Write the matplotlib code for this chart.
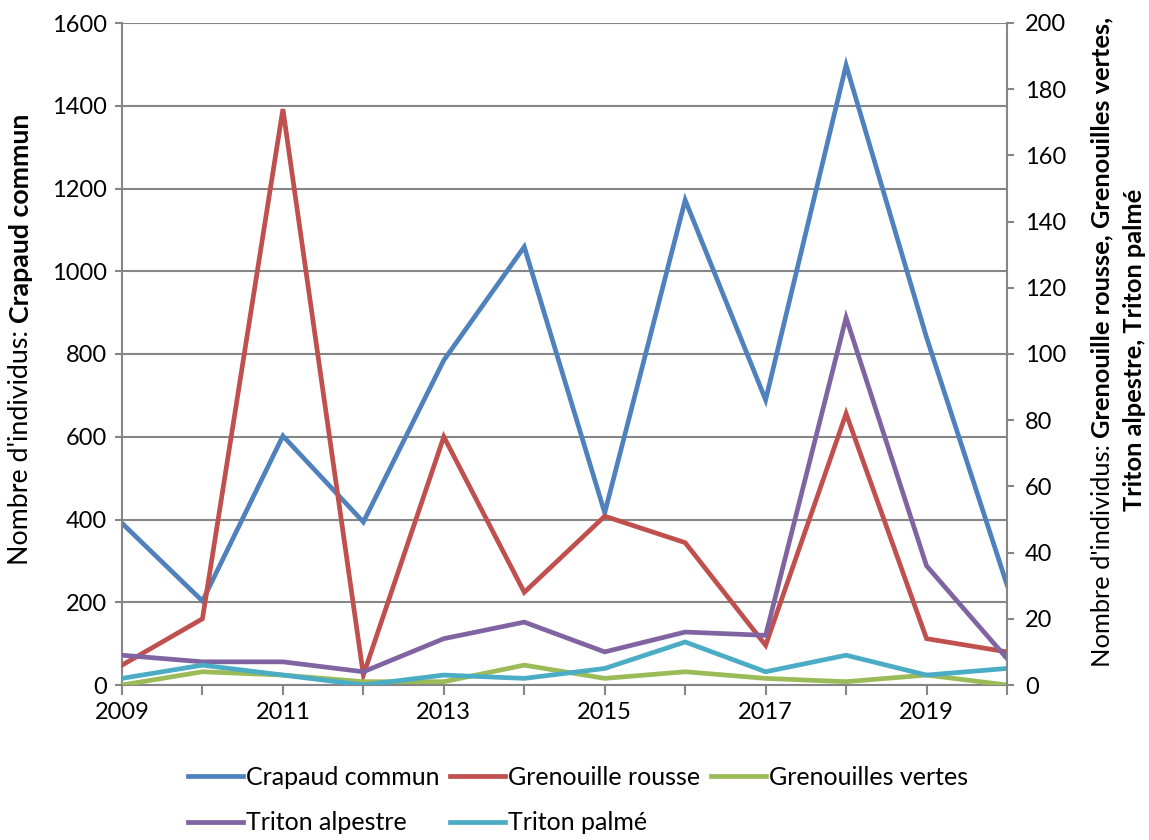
import matplotlib
matplotlib.use("Agg")
import matplotlib.pyplot as plt
from matplotlib.ticker import MultipleLocator

plt.rcParams['font.family'] = ['Lato', 'DejaVu Sans']

years = [2009, 2010, 2011, 2012, 2013, 2014, 2015, 2016, 2017, 2018, 2019, 2020]
crapaud_commun = [391, 203, 602, 394, 785, 1059, 416, 1172, 689, 1498, 840, 242]
grenouille_rousse = [6, 20, 174, 3, 75, 28, 51, 43, 12, 82, 14, 10]
grenouilles_vertes = [0, 4, 3, 1, 1, 6, 2, 4, 2, 1, 3, 0]
triton_alpestre = [9, 7, 7, 4, 14, 19, 10, 16, 15, 111, 36, 8]
triton_palme = [2, 6, 3, 0, 3, 2, 5, 13, 4, 9, 3, 5]

names = ["Crapaud commun", "Grenouille rousse", "Grenouilles vertes",
         "Triton alpestre", "Triton palmé"]
colors = ["#4F81BD", "#C0504D", "#9BBB59", "#8064A2", "#4BACC6"]

W, H = 1149, 840
fig = plt.figure(figsize=(W / 100, H / 100), dpi=100)
L, R, T, B = 122, 1007, 23, 685
ax = fig.add_axes([L / W, 1 - B / H, (R - L) / W, (B - T) / H])
ax2 = ax.twinx()

gray = "#868686"
lw = 3.4
h1, = ax.plot(years, crapaud_commun, color=colors[0], lw=lw, solid_joinstyle='miter')
h2, = ax2.plot(years, grenouille_rousse, color=colors[1], lw=lw, solid_joinstyle='miter')
h3, = ax2.plot(years, grenouilles_vertes, color=colors[2], lw=lw, solid_joinstyle='miter')
h4, = ax2.plot(years, triton_alpestre, color=colors[3], lw=lw, solid_joinstyle='miter')
h5, = ax2.plot(years, triton_palme, color=colors[4], lw=lw, solid_joinstyle='miter')

ax.set_xlim(2009, 2020)
ax.set_ylim(0, 1600)
ax2.set_ylim(0, 200)
ax.yaxis.set_major_locator(MultipleLocator(200))
ax2.yaxis.set_major_locator(MultipleLocator(20))
ax.set_xticks(list(range(2009, 2021, 2)))
ax.set_xticks(years, minor=True)
ax.grid(axis='y', color=gray, lw=1.5)
ax.set_axisbelow(True)

for a in (ax, ax2):
    for s in a.spines.values():
        s.set_color(gray)
        s.set_linewidth(1.5)
    a.spines['top'].set_visible(False)
ax.spines['right'].set_visible(False)
ax2.spines['left'].set_visible(False)
ax2.spines['bottom'].set_visible(False)

ax.tick_params(axis='y', labelsize=17, length=5, width=1.5, color=gray, pad=6)
ax.tick_params(axis='x', which='both', labelsize=17, length=7, width=1.5, color=gray, pad=5)
ax2.tick_params(axis='y', labelsize=17, length=5, width=1.5, color=gray, pad=8)

# legend
handles = [h1, h4, h2, h5, h3]
labels = [names[0], names[3], names[1], names[4], names[2]]
fig.legend(handles, labels, loc='center', bbox_to_anchor=(578 / W, 1 - 800 / H),
           ncol=3, frameon=False, fontsize=18, handlelength=2.2, handletextpad=0.1,
           columnspacing=0.45, labelspacing=0.9)

fig.canvas.draw()
renderer = fig.canvas.get_renderer()


def measure(txt, size, weight):
    t = fig.text(0, 0, txt, rotation=90, fontsize=size, fontweight=weight)
    h = t.get_window_extent(renderer).height
    t.remove()
    return h


def mixed_rotated(x_px, y_bottom_px, parts, size):
    y = y_bottom_px
    for txt, weight in parts:
        t = fig.text(x_px / W, 1 - y / H, txt, rotation=90, rotation_mode='anchor',
                     ha='left', va='center', fontsize=size, fontweight=weight)
        y -= t.get_window_extent(renderer).height


# left label
left_parts = [("Nombre d'individus: ", 'normal'), ("Crapaud commun", 'bold')]
left_size = 19.3
mixed_rotated(21, 565, left_parts, left_size)

# right label: two lines centred on the same vertical centre
right_size = 18.3
center_y = 342
right_parts = [("Nombre d'individus: ", 'normal'),
               ("Grenouille rousse, Grenouilles vertes,", 'bold')]
total = sum(measure(t, right_size, w) for t, w in right_parts)
mixed_rotated(1102, center_y + total / 2, right_parts, right_size)
fig.text(1134 / W, 1 - 350 / H, "Triton alpestre, Triton palmé", rotation=90,
         rotation_mode='anchor', ha='center', va='center', fontsize=right_size,
         fontweight='bold')

fig.savefig("out.png", dpi=100)
